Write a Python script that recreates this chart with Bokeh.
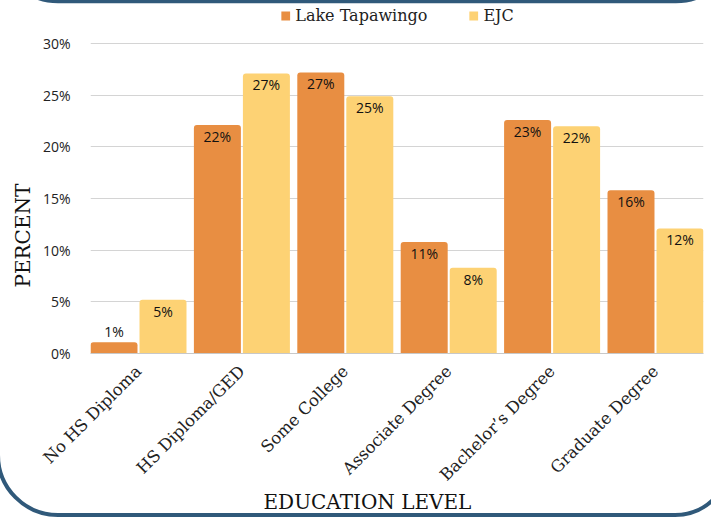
import math
from urllib.parse import quote
from bokeh.plotting import figure
from bokeh.models import (ColumnDataSource, FactorRange, Range1d, FixedTicker, PrintfTickFormatter,
                          Legend, LegendItem, Title)
from bokeh.transform import dodge
from bokeh.core.properties import value
from bokeh.embed import file_html
from bokeh.resources import INLINE

categories = ["No HS Diploma", "HS Diploma/GED", "Some College", "Associate Degree", "Bachelor\u2019s Degree", "Graduate Degree"]
lake_tapawingo = [1.1, 22.1, 27.2, 10.8, 22.6, 15.8]
ejc = [5.2, 27.1, 24.9, 8.3, 22.0, 12.1]
y_ticks = [0, 5, 10, 15, 20, 25, 30]
series_names = ["Lake Tapawingo", "EJC"]
x_title = "EDUCATION LEVEL"
y_title = "PERCENT"

ORANGE = "#E88E42"
YELLOW = "#FDD274"
FRAME_BLUE = "#30597A"
SERIF = "DejaVu Serif"
SANS = "Open Sans"

def lbl(v):
    return f"{round(v)}%"

def off(v):
    return -1 if v < 3 else 2

def base(v):
    return "bottom" if v < 3 else "top"

src = ColumnDataSource(dict(
    cat=categories,
    lake=lake_tapawingo, ejc=ejc,
    lake_lbl=[lbl(v) for v in lake_tapawingo], ejc_lbl=[lbl(v) for v in ejc],
    lake_off=[off(v) for v in lake_tapawingo], ejc_off=[off(v) for v in ejc],
    lake_base=[base(v) for v in lake_tapawingo], ejc_base=[base(v) for v in ejc],
))

p = figure(width=711, height=518, output_backend="svg", toolbar_location=None,
           x_range=FactorRange(*categories, range_padding=-0.0358, range_padding_units="absolute"),
           y_range=Range1d(0, 34.16),
           min_border_left=90, min_border_right=8, min_border_top=0, min_border_bottom=165)
p.outline_line_color = None
p.background_fill_color = None
p.border_fill_color = None

# decorative card borders drawn as page background behind the transparent canvas
svg = ("<svg xmlns='http://www.w3.org/2000/svg' width='711' height='518'>"
       f"<path d='M -2 455 A 60 60 0 0 0 58 515 L 675 515 A 55 55 0 0 0 730 460' fill='none' stroke='{FRAME_BLUE}' stroke-width='4'/>"
       f"<path d='M -1 -58 A 59 59 0 0 0 58 1.5 L 676 1.5 A 59 59 0 0 0 735 -58' fill='none' stroke='{FRAME_BLUE}' stroke-width='3.5'/>"
       "</svg>")
p.styles = {"background-color": "white",
            "background-image": f"url(\"data:image/svg+xml,{quote(svg)}\")",
            "background-repeat": "no-repeat"}

W = 0.4545
D = 0.237
r1 = p.vbar(x=dodge("cat", -D, range=p.x_range), top="lake", width=W, source=src,
            fill_color=ORANGE, line_color=None, border_radius=(3, 3, 0, 0))
r2 = p.vbar(x=dodge("cat", D, range=p.x_range), top="ejc", width=W, source=src,
            fill_color=YELLOW, line_color=None, border_radius=(3, 3, 0, 0))

p.text(x=dodge("cat", -D, range=p.x_range), y="lake", text="lake_lbl", source=src,
       y_offset="lake_off", text_baseline="lake_base", text_align="center",
       text_font=value(SANS), text_font_size="14px", text_color="#111111")
p.text(x=dodge("cat", D, range=p.x_range), y="ejc", text="ejc_lbl", source=src,
       y_offset="ejc_off", text_baseline="ejc_base", text_align="center",
       text_font=value(SANS), text_font_size="14px", text_color="#111111")

p.xgrid.grid_line_color = None
p.ygrid.grid_line_color = "#d4d4d4"
p.ygrid.grid_line_width = 1
p.yaxis.ticker = FixedTicker(ticks=y_ticks)
p.yaxis.formatter = PrintfTickFormatter(format="%d%%")
p.yaxis.axis_line_color = None
p.yaxis.major_tick_line_color = None
p.yaxis.minor_tick_line_color = None
p.yaxis.major_label_text_font = SANS
p.yaxis.major_label_text_font_size = "14px"
p.yaxis.major_label_text_color = "#222222"
p.yaxis.major_label_standoff = 14

p.xaxis.axis_line_color = "#c8c8c8"
p.xaxis.major_tick_line_color = None
p.xaxis.minor_tick_line_color = None
p.xaxis.major_label_orientation = math.pi / 4
p.xaxis.major_label_text_font = SERIF
p.xaxis.major_label_text_font_size = "16.5px"
p.xaxis.major_label_text_color = "#222222"
p.xaxis.major_label_standoff = 9

legend = Legend(items=[LegendItem(label=series_names[0], renderers=[r1]),
                       LegendItem(label=series_names[1], renderers=[r2])],
                location="top_center", orientation="horizontal",
                glyph_width=11, glyph_height=11, spacing=40, padding=2, margin=6,
                label_text_font=SERIF, label_text_font_size="16px", label_text_color="#222222",
                border_line_color=None, background_fill_alpha=0)
p.add_layout(legend)

p.add_layout(Title(text=x_title, align="left", offset=173, standoff=-10, vertical_align="top",
                   text_font=SERIF, text_font_size="20px", text_font_style="normal",
                   text_color="#111111"), "below")
p.add_layout(Title(text=y_title, align="left", offset=66, standoff=10,
                   text_font=SERIF, text_font_size="20px", text_font_style="normal",
                   text_color="#111111"), "left")

open("out.html", "w").write(file_html(p, INLINE))
